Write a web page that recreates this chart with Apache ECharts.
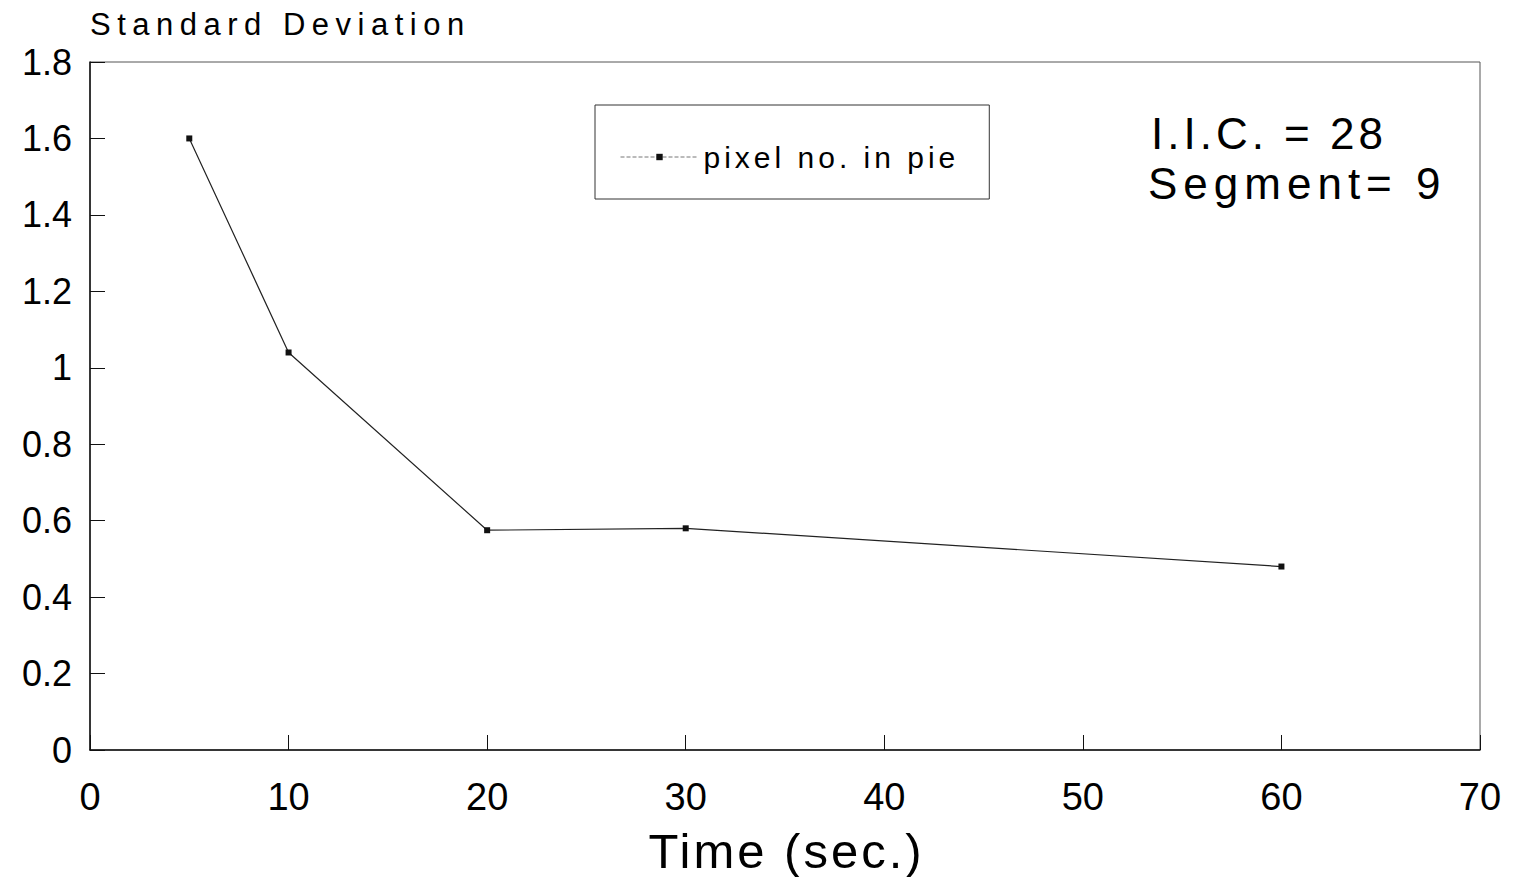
<!DOCTYPE html>
<html>
<head>
<meta charset="utf-8">
<script src="https://cdn.jsdelivr.net/npm/echarts@6/dist/echarts.min.js"></script>
<style>
  html, body { margin: 0; padding: 0; background: #fff; }
  #chart { width: 1516px; height: 877px; }
</style>
</head>
<body>
<div id="chart"></div>
<script>
    // values
    var times = [5, 10, 20, 30, 60];
    var stdDev = [1.6, 1.04, 0.575, 0.58, 0.48];
    var seriesName = 'pixel no. in pie';
    var yTitle = 'Standard Deviation';
    var xTitle = 'Time (sec.)';
    var noteLines = ['I.I.C. = 28', 'Segment= 9'];

    // the old plot software spaces its letters out a bit
    var spacing = {};
    spacing[yTitle] = 6.5;
    spacing[xTitle] = 3;
    spacing[seriesName] = 4;
    spacing[noteLines[0]] = 4;
    spacing[noteLines[1]] = 6;

    var font = '"Liberation Sans", Arial, sans-serif';
    var chart = echarts.init(document.getElementById('chart'), null, { renderer: 'svg' });

    var pts = [];
    for (var i = 0; i < times.length; i++) pts.push([times[i], stdDev[i]]);

    var option = {
        backgroundColor: '#fff',
        animation: false,
        textStyle: { fontFamily: font, color: '#000' },
        grid: {
            left: 90, right: 36, top: 62, bottom: 127,
            outerBoundsMode: 'none',
            show: true, borderColor: '#555', borderWidth: 1
        },
        legend: {
            left: 595, top: 105,
            padding: [37, 94, 27, 25],
            borderColor: '#333', borderWidth: 1,
            itemWidth: 78, itemHeight: 8,
            textStyle: { fontFamily: font, fontSize: 30, color: '#000' },
            lineStyle: { type: 'dashed', width: 1, color: '#777' },
            data: [seriesName]
        },
        xAxis: {
            type: 'value', min: 0, max: 70, interval: 10,
            name: xTitle, nameLocation: 'middle', nameGap: 76,
            nameTextStyle: { fontFamily: font, fontSize: 49, color: '#000' },
            axisLine: { lineStyle: { color: '#111', width: 1.5 } },
            axisTick: { inside: true, length: 15, lineStyle: { color: '#111' } },
            axisLabel: { fontFamily: font, fontSize: 38, color: '#000', margin: 28 },
            splitLine: { show: false }
        },
        yAxis: {
            type: 'value', min: 0, max: 1.8, interval: 0.2,
            name: yTitle, nameLocation: 'end', nameGap: 22,
            nameTextStyle: { fontFamily: font, fontSize: 31, color: '#000', align: 'left' },
            axisLine: { lineStyle: { color: '#111', width: 1.5 } },
            axisTick: { inside: true, length: 15, lineStyle: { color: '#111' } },
            axisLabel: {
                fontFamily: font, fontSize: 36, color: '#000', margin: 18,
                formatter: function (v) { return String(Math.round(v * 10) / 10); }
            },
            splitLine: { show: false }
        },
        graphic: [
            {
                type: 'text', left: 1151, top: 111,
                style: { text: noteLines[0], font: '44px ' + font, fill: '#000' }
            },
            {
                type: 'text', left: 1148, top: 161,
                style: { text: noteLines[1], font: '44px ' + font, fill: '#000' }
            }
        ],
        series: [{
            name: seriesName,
            type: 'line',
            data: pts,
            symbol: 'rect',
            symbolSize: 6,
            itemStyle: { color: '#111' },
            lineStyle: { color: '#222', width: 1.2 }
        }]
    };

    chart.setOption(option);

    function spreadLetters() {
        var texts = document.querySelectorAll('#chart text');
        texts.forEach(function (t) {
            var sp = spacing[t.textContent];
            if (sp === undefined) return;
            t.style.letterSpacing = sp + 'px';
            var anchor = t.getAttribute('text-anchor');
            if (anchor === 'middle') t.setAttribute('dx', sp / 2);
            else if (anchor === 'end') t.setAttribute('dx', sp);
        });
    }
    chart.on('finished', spreadLetters);
    spreadLetters();
</script>
</body>
</html>
